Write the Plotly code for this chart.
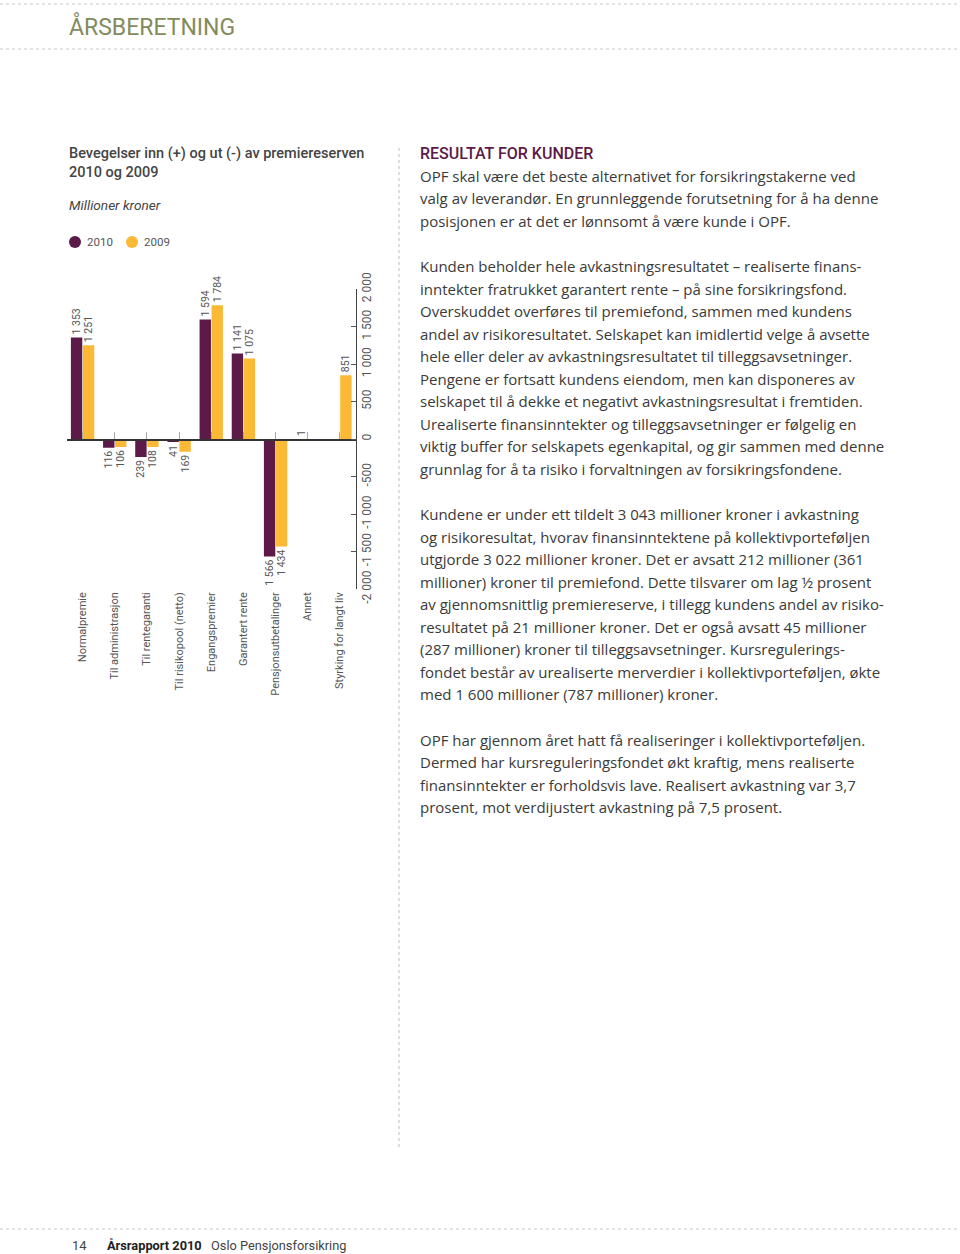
import plotly.graph_objects as go

# ---------------- data ----------------
categories = ["Normalpremie", "Til administrasjon", "Til rentegaranti",
              "Til risikopool (netto)", "Engangspremier", "Garantert rente",
              "Pensjonsutbetalinger", "Annet", "Styrking for langt liv"]
values_2010 = [1353, -116, -239, -41, 1594, 1141, -1566, 1, None]
values_2009 = [1251, -106, -108, -169, 1784, 1075, -1434, None, 851]
series_names = ["2010", "2009"]
y_tickvals = [2000, 1500, 1000, 500, 0, -500, -1000, -1500, -2000]
y_ticktext = ["2 000", "1 500", "1 000", "500", "0", "-500", "-1 000", "-1 500", "-2 000"]

PURPLE = "#5b1a47"
YELLOW = "#fbb935"
GREY_TXT = "#4a4a4a"
W, H = 960, 1254
BODY_FONT = "Open Sans"
CHART_FONT = "Roboto"


def fmt(v):
    if v is None:
        return ""
    return f"{abs(v):,}".replace(",", " ")


def py(p):
    return 1 - p / H


def px(p):
    return p / W


x_idx = list(range(len(categories)))

fig = go.Figure()
for name, vals, col in [(series_names[0], values_2010, PURPLE),
                        (series_names[1], values_2009, YELLOW)]:
    fig.add_trace(go.Bar(
        x=x_idx, y=vals, name=name, marker=dict(color=col, line=dict(width=0)),
        text=[fmt(v) for v in vals], textposition="outside", textangle=-90,
        constraintext="none", cliponaxis=False,
        textfont=dict(family=CHART_FONT, size=10.5, color="#555555"),
        showlegend=False,
    ))

# helper trace so that the zero-line axis (x2) is drawn
fig.add_trace(go.Scatter(x=[0], y=[None], xaxis="x2", yaxis="y",
                         mode="markers", showlegend=False, hoverinfo="skip"))

y_dom = [py(589), py(289)]
x_dom = [px(66.5), px(356)]

fig.update_layout(
    width=W, height=H, margin=dict(l=0, r=0, t=0, b=0, autoexpand=False),
    paper_bgcolor="white", plot_bgcolor="white",
    barmode="group", bargap=0.255, bargroupgap=0.05,
    font=dict(family=CHART_FONT, color=GREY_TXT),
    xaxis=dict(domain=x_dom, range=[-0.5, 8.5], tickmode="array",
               tickvals=x_idx, ticktext=categories, tickangle=-90,
               showline=False, showgrid=False, zeroline=False, ticks="",
               tickfont=dict(family=CHART_FONT, size=11, color="#555555"),
               anchor="y", automargin=False, fixedrange=True),
    xaxis2=dict(overlaying="x", anchor="free", position=(y_dom[0] + y_dom[1]) / 2,
                side="top", range=[-0.5, 8.5], tickmode="array", tickvals=x_idx,
                showticklabels=False, ticks="outside", ticklen=7, tickwidth=1,
                tickcolor="#aaaaaa", showline=True, linecolor="#333333",
                linewidth=1.5, showgrid=False, zeroline=False, automargin=False),
    yaxis=dict(domain=y_dom, range=[-2000, 2000], side="right", anchor="x",
               tickmode="array", tickvals=y_tickvals, ticktext=y_ticktext,
               tickangle=-90, ticks="inside", ticklen=5, tickcolor="#555555",
               showline=True, linecolor="#444444", linewidth=1,
               showgrid=False, zeroline=False, automargin=False,
               tickfont=dict(family=CHART_FONT, size=12, color="#555555")),
)

ann = []


def text(x, y, s, size=15, color=GREY_TXT, weight=None, italic=False,
         family=CHART_FONT, anchor="left"):
    f = dict(family=family, size=size, color=color)
    if weight:
        f["weight"] = weight
    if italic:
        f["style"] = "italic"
    ann.append(dict(x=px(x), y=py(y), xref="paper", yref="paper", text=s,
                    showarrow=False, xanchor=anchor, yanchor="middle", font=f))


# header & footer
text(67, 27, "ÅRSBERETNING", size=23, color="#838b5c")
text(70, 1245, "14", size=13, color="#444444")
text(105, 1245, "Årsrapport 2010", size=12.8, color="#222222", weight=700)
text(209, 1245, "Oslo Pensjonsforsikring", size=12.8, color="#444444")

# chart title block
text(67, 153, "Bevegelser inn (+) og ut (-) av premiereserven", size=14.5,
     color="#444444", weight=500)
text(67, 172, "2010 og 2009", size=14.5, color="#444444", weight=500)
text(67, 205, "Millioner kroner", size=13.6, color="#444444", italic=True)

# legend labels (markers drawn as shapes below)
text(85, 242, series_names[0], size=11.5, color="#555555")
text(142, 242, series_names[1], size=11.5, color="#555555")

# right column text
text(418, 153, "RESULTAT FOR KUNDER", size=16, color=PURPLE, weight=500)
lines = [
    (176, "OPF skal være det beste alternativet for forsikringstakerne ved"),
    (198, "valg av leverandør. En grunnleggende forutsetning for å ha denne"),
    (221, "posisjonen er at det er lønnsomt å være kunde i OPF."),
    (266, "Kunden beholder hele avkastningsresultatet – realiserte finans-"),
    (289, "inntekter fratrukket garantert rente – på sine forsikringsfond."),
    (311, "Overskuddet overføres til premiefond, sammen med kundens"),
    (334, "andel av risikoresultatet. Selskapet kan imidlertid velge å avsette"),
    (356, "hele eller deler av avkastningsresultatet til tilleggsavsetninger."),
    (379, "Pengene er fortsatt kundens eiendom, men kan disponeres av"),
    (401, "selskapet til å dekke et negativt avkastningsresultat i fremtiden."),
    (424, "Urealiserte finansinntekter og tilleggsavsetninger er følgelig en"),
    (446, "viktig buffer for selskapets egenkapital, og gir sammen med denne"),
    (469, "grunnlag for å ta risiko i forvaltningen av forsikringsfondene."),
    (514, "Kundene er under ett tildelt 3 043 millioner kroner i avkastning"),
    (537, "og risikoresultat, hvorav finansinntektene på kollektivporteføljen"),
    (559, "utgjorde 3 022 millioner kroner. Det er avsatt 212 millioner (361"),
    (582, "millioner) kroner til premiefond. Dette tilsvarer om lag ½ prosent"),
    (604, "av gjennomsnittlig premiereserve, i tillegg kundens andel av risiko-"),
    (627, "resultatet på 21 millioner kroner. Det er også avsatt 45 millioner"),
    (649, "(287 millioner) kroner til tilleggsavsetninger. Kursregulerings-"),
    (672, "fondet består av urealiserte merverdier i kollektivporteføljen, økte"),
    (694, "med 1 600 millioner (787 millioner) kroner."),
    (740, "OPF har gjennom året hatt få realiseringer i kollektivporteføljen."),
    (762, "Dermed har kursreguleringsfondet økt kraftig, mens realiserte"),
    (785, "finansinntekter er forholdsvis lave. Realisert avkastning var 3,7"),
    (807, "prosent, mot verdijustert avkastning på 7,5 prosent."),
]
for yy, s in lines:
    text(418, yy, s, size=15.0, color="#3a3a3a", family=BODY_FONT)

fig.update_layout(annotations=ann)

# dotted page rules + legend markers
dot = dict(color="#c8c8c8", width=1.2, dash="dot")
shapes = [
    dict(type="line", xref="paper", yref="paper", x0=0, x1=1, y0=py(4), y1=py(4), line=dot),
    dict(type="line", xref="paper", yref="paper", x0=0, x1=1, y0=py(49), y1=py(49), line=dot),
    dict(type="line", xref="paper", yref="paper", x0=0, x1=1, y0=py(1229), y1=py(1229), line=dot),
    dict(type="line", xref="paper", yref="paper", x0=px(399), x1=px(399), y0=py(148), y1=py(1150), line=dot),
    dict(type="circle", xref="paper", yref="paper", x0=px(69), x1=px(81), y0=py(248), y1=py(236),
         fillcolor=PURPLE, line=dict(width=0)),
    dict(type="circle", xref="paper", yref="paper", x0=px(126), x1=px(138), y0=py(248), y1=py(236),
         fillcolor=YELLOW, line=dict(width=0)),
]
fig.update_layout(shapes=shapes)

fig.write_html("out.html",
               config={"displayModeBar": False, "staticPlot": True},
               post_script="document.body.style.margin='0';"
                           "document.body.style.overflow='hidden';")
